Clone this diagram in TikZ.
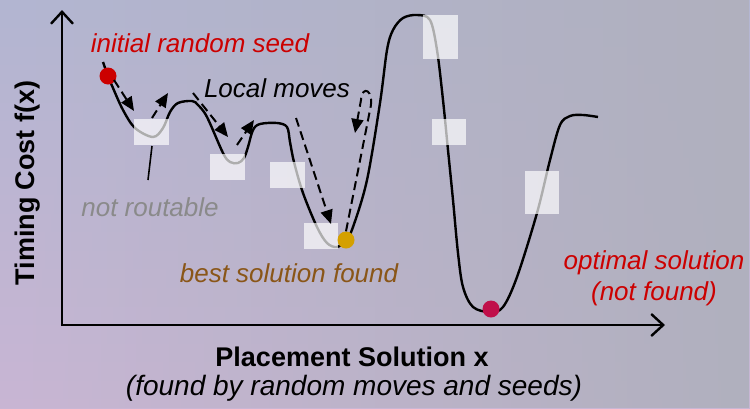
\documentclass[tikz,border=0pt]{standalone}
\usepackage{fontspec}
\setmainfont{Liberation Sans}
\usetikzlibrary{arrows.meta,fadings}
\definecolor{bgTop}{HTML}{B3B6D2}
\definecolor{bgBot}{HTML}{C9B6D4}
\definecolor{bgRight}{HTML}{B0B0BE}
\definecolor{seedred}{HTML}{CC0000}
\definecolor{goldc}{HTML}{D4A000}
\definecolor{optc}{HTML}{C0104A}
\definecolor{brownc}{HTML}{8A5618}
\definecolor{grayc}{HTML}{8A8A8A}
\tikzfading[name=fadeleft, left color=transparent!100, right color=transparent!0]
\tikzset{
  axis/.style={line width=2.4pt, -{Straight Barb[length=12pt,width=22pt,line width=2.4pt]}},
  curve/.style={line width=2.4pt, black},
  movearrow/.style={line width=2pt, dash pattern=on 9pt off 5pt, -{Triangle[length=14pt,width=12pt]}},
  blank/.style={fill=white, fill opacity=0.68, draw=none},
  dot/.style={circle, inner sep=0pt, minimum size=17pt, draw=none},
  lbl/.style={font=\fontsize{26}{30}\selectfont\itshape, inner sep=0pt},
  ttl/.style={font=\fontsize{27}{31}\selectfont\bfseries, inner sep=0pt}
}
\begin{document}
\begin{tikzpicture}[x=1pt,y=-1pt]
\useasboundingbox (0,0) rectangle (750,408);
% background
\shade[top color=bgTop, bottom color=bgBot] (0,0) rectangle (750,408);
\fill[bgRight, path fading=fadeleft] (0,0) rectangle (750,408);
% axes
\coordinate (O) at (62,325);
\coordinate (ytop) at (62,10);
\coordinate (xend) at (665,325);
\draw[axis] (62,326.2) -- (ytop);
\draw[axis] (60.8,325) -- (xend);
% curve
\draw[curve] plot[smooth, tension=0.55] coordinates {
(103,62) (108,76) (113,88) (123,110) (135,128) (153,137) (163,128) (170,112) (178,103) (192,101)
(198,105) (207,117) (223,153) (230,162) (238,163) (244,158) (248,147) (253,130) (260,124)
(277,123) (287,127) (290,142) (294,162) (303,193) (317,227) (327,243) (337,247) (346,240)
(353,227) (367,180) (380,103) (387,50) (393,30) (403,18) (417,15) (430,20) (437,50)
(443,100) (448,150) (453,200) (458,253) (463,287) (473,307) (490,312) (503,307) (517,277)
(537,213) (550,160) (560,125) (570,116) (583,115) (598,117)};
% blanked (not routable) regions
\fill[blank] (134,119) rectangle (169,145);
\fill[blank] (210,154) rectangle (245,180);
\fill[blank] (270,162) rectangle (305,188);
\fill[blank] (304,223) rectangle (338,249);
\fill[blank] (423,15) rectangle (458,59);
\fill[blank] (432,119) rectangle (466,145);
\fill[blank] (525,171) rectangle (559,214);
% dots
\node[dot, fill=seedred] (seed) at (108,76) {};
\node[dot, fill=goldc] (best) at (346,240) {};
\node[dot, fill=optc] (opt) at (491,309) {};
% local move arrows
\coordinate (m1s) at (114,80);
\coordinate (m1e) at (134,111);
\coordinate (m2s) at (152,118); \coordinate (m2e) at (168,93);
\coordinate (m3s) at (193,93);  \coordinate (m3e) at (228,137);
\coordinate (m4s) at (237,145); \coordinate (m4e) at (254,120);
\coordinate (m5s) at (296,118); \coordinate (m5e) at (331,224);
\coordinate (m6e) at (355,133);
\draw[movearrow] (m1s) -- (m1e);
\draw[movearrow] (m2s) -- (m2e);
\draw[movearrow] (m3s) -- (m3e);
\draw[movearrow] (m4s) -- (m4e);
\draw[movearrow] (m5s) -- (m5e);
\draw[movearrow] (best.north) -- (370,110) .. controls (375,90) and (362,84) .. (361,100) -- (m6e);
% not routable pointer
\coordinate (nr1) at (152,146);
\coordinate (nr2) at (148,180);
\draw[line width=1.6pt] (nr1) -- (nr2);
% labels
\node[lbl, text=seedred] (tseed) at (200,43) {initial random seed};
\node[lbl, text=black] (tmoves) at (277,88) {Local moves};
\node[lbl, text=grayc] (tnr) at (150,207) {not routable};
\node[lbl, text=brownc] (tbest) at (289,273) {best solution found};
\node[lbl, text=seedred, align=center, font=\fontsize{26}{31}\selectfont\itshape] (topt) at (654,278) {optimal solution\\(not found)};
\node[ttl] (xlab) at (352,357) {Placement Solution x};
\node[lbl, font=\fontsize{28}{32}\selectfont\itshape] (xsub) at (354,388) {(found by random moves and seeds)};
\node[ttl, rotate=90] (ylab) at (28,183) {Timing Cost f(x)};
\end{tikzpicture}
\end{document}
